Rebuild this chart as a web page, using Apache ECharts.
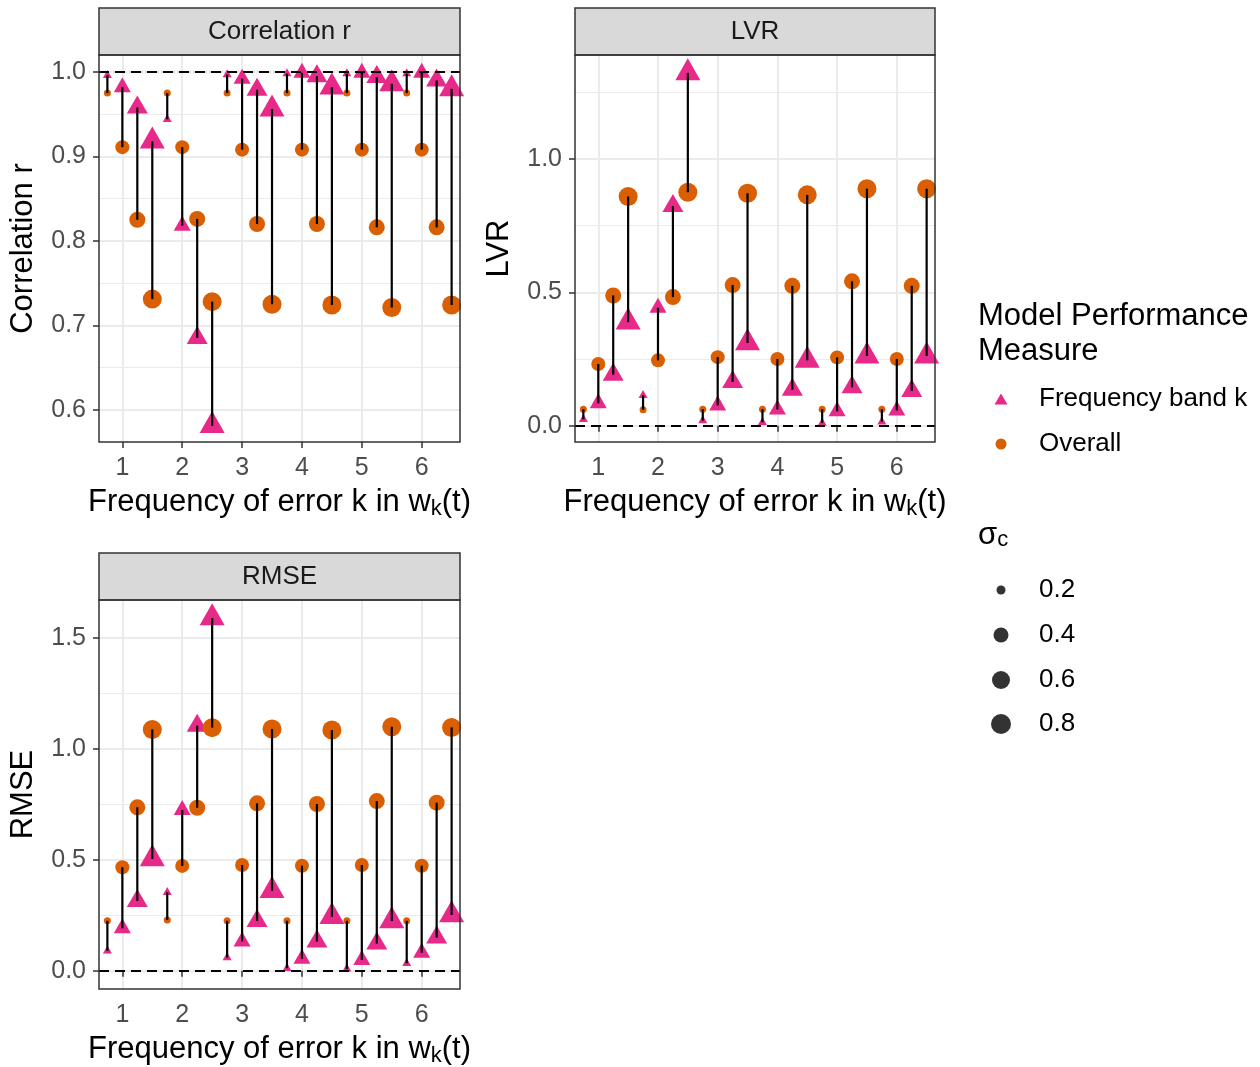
<!DOCTYPE html>
<html>
<head>
<meta charset="utf-8">
<script src="https://cdn.jsdelivr.net/npm/echarts@6/dist/echarts.min.js"></script>
<style>
html, body { margin: 0; padding: 0; background: #fff; }
#chart { width: 1260px; height: 1067px; }
</style>
</head>
<body>
<div id="chart"></div>
<script>
// k = frequency of error, sigma = sigma_c (size), values ordered k by k, sigma inside
const ks = [1, 2, 3, 4, 5, 6];
const sigmas = [0.2, 0.4, 0.6, 0.8];
const sigmaLabels = ['0.2', '0.4', '0.6', '0.8'];
const xTicks = [1, 2, 3, 4, 5, 6];

const corrBand = [
  0.996, 0.982, 0.958, 0.918,
  0.944, 0.818, 0.685, 0.581,
  0.997, 0.992, 0.979, 0.956,
  0.998, 0.999, 0.995, 0.982,
  0.998, 0.999, 0.994, 0.986,
  0.998, 0.999, 0.990, 0.980
];
const corrOverall = [
  0.975, 0.911, 0.825, 0.731,
  0.975, 0.911, 0.826, 0.728,
  0.975, 0.908, 0.820, 0.725,
  0.975, 0.908, 0.820, 0.724,
  0.975, 0.908, 0.816, 0.721,
  0.975, 0.908, 0.816, 0.724
];
const lvrBand = [
  0.024, 0.084, 0.191, 0.388,
  0.114, 0.442, 0.823, 1.322,
  0.019, 0.076, 0.164, 0.310,
  0.013, 0.061, 0.135, 0.245,
  0.010, 0.054, 0.144, 0.261,
  0.015, 0.057, 0.130, 0.261
];
const lvrOverall = [
  0.062, 0.231, 0.488, 0.859,
  0.060, 0.245, 0.482, 0.875,
  0.062, 0.257, 0.527, 0.871,
  0.062, 0.250, 0.524, 0.865,
  0.062, 0.256, 0.541, 0.888,
  0.062, 0.250, 0.524, 0.888
];
const rmseBand = [
  0.089, 0.191, 0.314, 0.503,
  0.353, 0.724, 1.104, 1.589,
  0.059, 0.132, 0.224, 0.360,
  0.011, 0.054, 0.131, 0.243,
  0.008, 0.048, 0.122, 0.224,
  0.033, 0.081, 0.149, 0.251
];
const rmseOverall = [
  0.225, 0.466, 0.736, 1.087,
  0.228, 0.472, 0.734, 1.095,
  0.225, 0.476, 0.754, 1.089,
  0.225, 0.473, 0.751, 1.084,
  0.225, 0.476, 0.764, 1.099,
  0.225, 0.473, 0.757, 1.096
];

const corrTicks = [0.6, 0.7, 0.8, 0.9, 1.0];
const corrMinor = [0.65, 0.75, 0.85, 0.95];
const lvrTicks = [0.0, 0.5, 1.0];
const lvrMinor = [0.25, 0.75, 1.25];
const rmseTicks = [0.0, 0.5, 1.0, 1.5];
const rmseMinor = [0.25, 0.75, 1.25];

const BAND = '#E7298A';
const OVERALL = '#D95F02';
const FONT = 'Liberation Sans, Arial, sans-serif';

// dodge of each sigma around k
const dodge = [-0.25, 0, 0.25, 0.5];
const circleSize = [7, 14, 16, 19];
const triWidth = [9, 17, 21, 25];

const panels = [
  { title: 'Correlation r', band: corrBand, overall: corrOverall, ref: 1,
    min: 0.5618, max: 1.0201, ticks: corrTicks, minor: corrMinor,
    grid: { left: 99, top: 55, width: 361, height: 387 } },
  { title: 'LVR', band: lvrBand, overall: lvrOverall, ref: 0,
    min: -0.061, max: 1.389, ticks: lvrTicks, minor: lvrMinor,
    grid: { left: 575, top: 55, width: 360, height: 387 } },
  { title: 'RMSE', band: rmseBand, overall: rmseOverall, ref: 0,
    min: -0.0825, max: 1.670, ticks: rmseTicks, minor: rmseMinor,
    grid: { left: 99, top: 600, width: 361, height: 389 } }
];

const xName = '{a|Frequency of error k in w}{b|k}{a|(t)}';
const xNameRich = {
  a: { fontSize: 31, lineHeight: 36, color: '#000', fontFamily: FONT },
  b: { fontSize: 22, lineHeight: 22, color: '#000', fontFamily: FONT, verticalAlign: 'bottom' }
};

const grid = [], xAxis = [], yAxis = [], series = [], graphic = [];

panels.forEach(function (p, i) {
  grid.push(Object.assign({ outerBoundsMode: 'none', containLabel: false }, p.grid));
  xAxis.push({
    type: 'value', gridIndex: i, min: 0.61, max: 6.64,
    name: xName, nameLocation: 'middle', nameGap: 42, nameMoveOverlap: false,
    nameTextStyle: { rich: xNameRich },
    axisLine: { show: false },
    axisTick: { show: true, length: 6, lineStyle: { color: '#333', width: 1.5 }, customValues: xTicks },
    axisLabel: { customValues: xTicks, margin: 14, fontSize: 25, color: '#4D4D4D', fontFamily: FONT },
    splitLine: { show: true, lineStyle: { color: '#EBEBEB', width: 2 } }
  });
  // minor grid lines
  yAxis.push({
    type: 'value', gridIndex: i, min: p.min, max: p.max, position: 'left',
    axisLine: { show: false },
    axisTick: { show: false, customValues: p.minor },
    axisLabel: { show: false, customValues: p.minor },
    splitLine: { show: true, lineStyle: { color: '#EBEBEB', width: 1 } }
  });
  yAxis.push({
    type: 'value', gridIndex: i, min: p.min, max: p.max, position: 'left',
    name: p.title, nameLocation: 'middle', nameGap: 60, nameMoveOverlap: false,
    nameTextStyle: { fontSize: 31, color: '#000', fontFamily: FONT },
    axisLine: { show: false },
    axisTick: { show: true, length: 6, lineStyle: { color: '#333', width: 1.5 }, customValues: p.ticks },
    axisLabel: { customValues: p.ticks, margin: 13, fontSize: 25, color: '#4D4D4D', fontFamily: FONT,
      formatter: function (v) { return v.toFixed(1); } },
    splitLine: { show: true, lineStyle: { color: '#EBEBEB', width: 2 } }
  });

  const bandData = [], overallData = [], segData = [];
  ks.forEach(function (k, a) {
    sigmas.forEach(function (s, b) {
      const j = a * sigmas.length + b;
      const x = k + dodge[b];
      const w = triWidth[b], h = Math.round(w * 0.866);
      bandData.push({ value: [x, p.band[j], s], symbolSize: [w, h], symbolOffset: [0, -h / 6] });
      overallData.push({ value: [x, p.overall[j], s], symbolSize: circleSize[b] });
      segData.push([x, p.band[j], p.overall[j]]);
    });
  });

  const yIdx = i * 2 + 1;
  series.push({
    type: 'scatter', xAxisIndex: i, yAxisIndex: yIdx, data: [], z: 1, silent: true,
    markLine: {
      silent: true, symbol: 'none', label: { show: false },
      lineStyle: { color: '#000', type: [10, 6], width: 2.2 },
      data: [{ yAxis: p.ref }]
    }
  });
  series.push({
    name: 'Frequency band k', type: 'scatter', xAxisIndex: i, yAxisIndex: yIdx,
    symbol: 'triangle', itemStyle: { color: BAND, opacity: 1 }, z: 3, data: bandData
  });
  series.push({
    name: 'Overall', type: 'scatter', xAxisIndex: i, yAxisIndex: yIdx,
    symbol: 'circle', itemStyle: { color: OVERALL, opacity: 1 }, z: 3, data: overallData
  });
  series.push({
    type: 'custom', xAxisIndex: i, yAxisIndex: yIdx, z: 5, silent: true,
    encode: { x: 0, y: [1, 2] },
    data: segData,
    renderItem: function (params, api) {
      const p1 = api.coord([api.value(0), api.value(1)]);
      const p2 = api.coord([api.value(0), api.value(2)]);
      return {
        type: 'line',
        shape: { x1: p1[0], y1: p1[1], x2: p2[0], y2: p2[1] },
        style: { stroke: '#000', lineWidth: 2.2 }
      };
    }
  });

  // strip and panel frame
  const g = p.grid;
  graphic.push({
    type: 'rect', z: 100,
    shape: { x: g.left, y: g.top - 47, width: g.width, height: 47 },
    style: { fill: '#D9D9D9', stroke: '#333', lineWidth: 1.5 }
  });
  graphic.push({
    type: 'text', z: 101, x: g.left + g.width / 2, y: g.top - 23.5,
    style: { text: p.title, fill: '#1A1A1A', font: '26px ' + FONT, align: 'center', verticalAlign: 'middle' }
  });
  graphic.push({
    type: 'rect', z: 100,
    shape: { x: g.left, y: g.top, width: g.width, height: g.height },
    style: { fill: 'none', stroke: '#333', lineWidth: 1.5 }
  });
});

// dummy series carrying the size legend
sigmaLabels.forEach(function (lab) {
  series.push({ name: lab, type: 'scatter', xAxisIndex: 0, yAxisIndex: 1, data: [], itemStyle: { color: '#000' } });
});

const keyX = 1001, keyTextX = 1039;
const legendText = { fontSize: 26, lineHeight: 30, color: '#000', fontFamily: FONT };
function keyLegend(items, top, w, h, gap) {
  const left = keyX - w / 2;
  return {
    data: items, orient: 'vertical', left: left, top: top, padding: 0,
    itemWidth: w, itemHeight: h, itemGap: gap, selectedMode: false,
    textStyle: Object.assign({ padding: [0, 0, 0, keyTextX - (left + w + 5)] }, legendText)
  };
}
const legend = [
  keyLegend([{ name: 'Frequency band k', icon: 'triangle' }, { name: 'Overall', icon: 'circle' }], 384, 13, 11, 15)
];
const sizeLegendTop = [575, 620, 665, 709];
const sizeLegendIcon = [9, 15, 18, 20];
sigmaLabels.forEach(function (lab, b) {
  legend.push(keyLegend([{ name: lab, icon: 'circle' }], sizeLegendTop[b], sizeLegendIcon[b], sizeLegendIcon[b], 10));
});

const chart = echarts.init(document.getElementById('chart'));
chart.setOption({
  animation: false,
  backgroundColor: '#fff',
  title: [
    { text: 'Model Performance\nMeasure', left: 978, top: 299, padding: 0,
      textStyle: { fontSize: 31, fontWeight: 'normal', lineHeight: 35, color: '#000', fontFamily: FONT } },
    { text: '{s|σ}{c|c}', left: 978, top: 519, padding: 0,
      textStyle: { fontWeight: 'normal', rich: {
        s: { fontSize: 31, lineHeight: 32, fontWeight: 'normal', color: '#000', fontFamily: FONT },
        c: { fontSize: 22, lineHeight: 22, fontWeight: 'normal', color: '#000', fontFamily: FONT, verticalAlign: 'bottom' }
      } } }
  ],
  legend: legend,
  grid: grid,
  xAxis: xAxis,
  yAxis: yAxis,
  series: series,
  graphic: graphic
});
</script>
</body>
</html>
